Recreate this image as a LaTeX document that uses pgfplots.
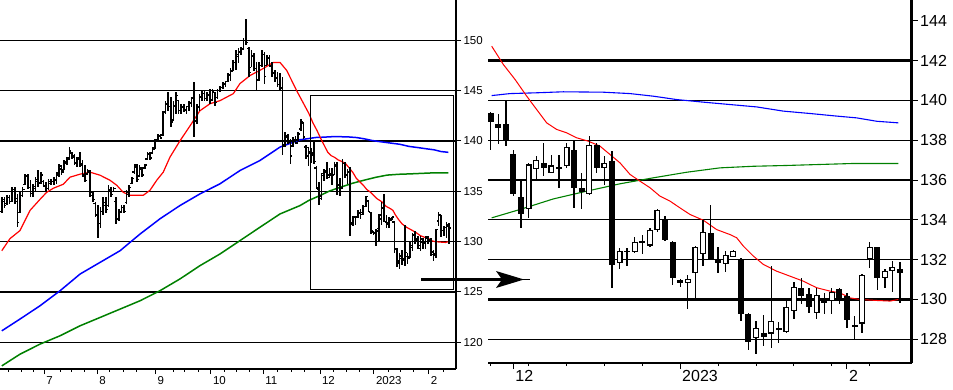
\documentclass[border=0pt]{standalone}
\usepackage{pgfplots}
\usepackage{pgfplotstable}
\pgfplotsset{compat=1.18}
\usepackage{fontspec}
\setmainfont{Liberation Sans}

\definecolor{mared}{RGB}{255,0,0}
\definecolor{mablue}{RGB}{0,0,255}
\definecolor{magreen}{RGB}{0,128,0}

\pgfplotstableread{
k o h l c
0 133.0 134.4 132.8 134.2
1 134.0 134.4 133.3 133.6
2 133.8 134.6 133.6 134.4
3 134.4 134.6 133.7 134.0
4 134.0 135.4 133.9 135.2
5 135.2 135.4 133.7 134.0
6 134.3 134.7 131.5 131.9
7 132.9 134.9 132.8 134.6
8 134.6 135.4 134.4 135.2
9 135.7 136.7 135.6 136.5
10 136.5 136.7 135.2 135.4
11 135.4 136.1 134.4 135.0
12 134.8 135.7 134.4 135.5
13 135.3 136.4 134.9 136.2
14 136.0 137.1 135.4 135.8
15 135.9 136.9 135.7 136.6
16 136.0 136.1 135.4 135.6
17 135.5 135.9 134.9 135.3
18 135.3 136.2 135.1 136.0
19 135.8 136.2 135.6 136.0
20 136.0 136.4 135.6 136.2
21 136.1 136.9 135.7 136.8
22 136.6 137.7 136.4 137.5
23 137.2 137.6 136.6 136.9
24 137.1 138.1 137.1 137.9
25 137.8 138.4 137.6 138.2
26 138.3 139.4 138.1 139.0
27 138.8 138.9 138.2 138.5
28 138.4 138.7 137.6 137.8
29 137.8 138.4 137.4 138.2
30 138.3 138.9 137.4 137.6
31 137.7 138.1 136.4 136.6
32 136.5 137.6 135.9 136.1
33 136.7 137.2 136.6 137.0
34 136.9 137.1 134.4 134.9
35 134.6 134.9 133.9 134.2
36 133.8 133.9 132.4 132.7
37 132.6 133.6 130.4 131.8
38 131.8 133.4 131.4 133.0
39 133.0 134.4 132.6 133.9
40 133.6 134.4 132.8 133.2
41 133.6 135.6 133.4 135.2
42 135.1 135.4 134.4 134.7
43 135.0 135.4 134.9 135.3
44 134.0 134.4 131.8 132.2
45 132.3 133.2 132.1 133.0
46 132.9 133.6 132.8 133.4
47 133.4 133.6 132.8 133.0
48 133.9 135.1 133.7 134.9
49 134.7 135.6 134.4 135.4
50 135.8 136.4 135.7 136.3
51 136.9 137.7 136.7 137.6
52 137.4 137.7 135.9 136.2
53 136.5 137.6 136.4 137.3
54 137.2 137.4 136.4 136.6
55 137.3 137.7 137.2 137.6
56 138.2 138.9 138.1 138.7
57 138.7 138.9 138.1 138.3
58 138.8 139.4 138.7 139.2
59 139.3 140.2 139.2 140.0
60 140.1 140.7 140.0 140.5
61 140.5 140.7 140.2 140.3
62 140.6 143.0 140.5 142.8
63 142.9 144.0 142.7 143.7
64 143.6 144.9 143.0 143.4
65 143.4 144.4 141.4 141.9
66 142.1 144.0 142.0 143.5
67 143.4 144.9 142.7 144.5
68 144.0 144.0 142.7 143.0
69 143.0 143.7 142.7 143.4
70 143.3 143.7 142.9 143.1
71 143.0 143.5 142.7 143.4
72 143.4 144.0 143.0 143.8
73 143.7 144.4 143.4 144.2
74 144.3 145.9 140.4 142.0
75 142.0 143.7 141.7 143.4
76 143.3 144.7 143.0 144.4
77 144.3 145.0 144.0 144.7
78 144.7 145.0 144.0 144.2
79 144.2 144.9 144.0 144.6
80 144.5 145.2 143.7 144.0
81 144.1 145.2 144.0 144.9
82 144.8 144.9 143.5 143.8
83 144.3 145.2 144.2 145.0
84 145.0 145.5 144.9 145.3
85 145.3 145.9 145.2 145.7
86 145.6 146.0 145.4 145.9
87 145.9 146.8 145.9 146.6
88 146.5 147.2 146.0 146.9
89 147.0 148.0 146.9 147.8
90 147.8 149.0 147.0 148.6
91 148.4 149.2 147.7 148.9
92 148.8 149.3 148.5 149.2
93 149.1 150.2 149.0 150.0
94 150.0 152.1 149.5 149.8
95 149.2 149.3 146.4 146.8
96 147.3 149.0 147.3 148.5
97 148.4 148.7 146.9 147.2
98 147.2 147.8 145.0 146.0
99 146.1 147.8 146.0 147.5
100 147.5 149.0 147.3 148.6
101 148.6 148.8 145.7 146.4
102 147.5 148.5 147.5 148.3
103 148.2 148.5 147.3 147.5
104 147.4 147.8 146.4 146.8
105 146.7 147.0 145.9 146.3
106 146.2 146.8 145.4 145.6
107 145.6 146.7 145.0 145.3
108 145.2 146.4 138.6 139.5
109 139.6 140.9 139.4 140.5
110 140.4 140.7 139.7 139.9
111 139.9 140.2 137.7 138.5
112 139.5 140.4 139.4 140.1
113 140.0 140.5 139.7 139.8
114 140.1 140.9 140.0 140.7
115 141.2 142.2 141.0 141.9
116 141.8 141.9 140.2 140.4
117 139.4 139.6 138.2 138.5
}\leftbars

\pgfplotstableread{
j o h l c
1 139.37 139.40 137.53 138.92
2 138.79 139.32 137.82 138.62
3 138.79 140.00 137.70 137.98
4 137.31 137.53 135.19 135.31
5 135.15 135.94 133.60 134.30
6 134.52 136.86 134.10 136.78
7 136.56 137.23 136.03 137.00
8 136.86 137.87 136.19 136.61
9 136.36 137.28 136.33 136.73
10 136.63 137.28 135.61 136.60
11 136.69 137.87 136.61 137.67
12 137.50 137.95 134.60 135.61
13 135.61 136.36 134.55 135.39
14 135.31 138.20 135.27 137.75
15 137.75 137.87 136.33 136.61
16 136.58 137.20 135.77 136.86
17 136.98 137.45 130.59 131.72
18 131.84 132.59 131.51 132.43
19 132.40 132.59 131.67 132.43
20 132.39 133.13 132.31 132.90
21 132.85 133.23 132.26 132.90
22 132.71 133.60 132.64 133.48
23 133.48 134.52 133.40 134.49
24 134.05 134.18 132.93 133.01
25 132.90 132.93 130.75 131.09
26 130.97 131.04 130.64 130.84
27 130.84 131.21 129.53 131.04
28 131.31 132.71 129.92 132.64
29 132.26 133.98 131.67 133.40
30 133.35 134.74 131.97 132.00
31 131.97 132.64 131.31 131.84
32 131.76 132.43 131.37 132.23
33 132.14 132.48 132.14 132.43
34 131.97 132.09 128.91 129.25
35 129.25 129.33 127.46 127.87
36 128.08 128.91 127.24 128.58
37 128.33 129.20 127.66 128.13
38 128.29 131.67 127.57 128.91
39 128.55 128.86 127.79 128.53
40 128.38 130.08 128.33 129.63
41 129.41 130.87 129.03 130.64
42 130.59 131.09 129.75 130.17
43 130.30 130.59 129.30 129.63
44 129.30 130.59 129.03 130.25
45 129.90 130.33 129.25 129.88
46 129.92 130.59 129.25 130.37
47 130.54 130.59 129.75 130.00
48 130.17 130.33 128.58 128.96
49 128.74 129.16 128.03 128.63
50 128.79 131.26 128.33 131.22
51 132.04 132.90 131.59 132.64
52 132.64 132.64 130.50 131.09
53 131.09 131.54 130.59 131.42
54 131.42 131.92 130.37 131.64
55 131.54 131.89 129.80 131.34
}\candles

\pgfplotstableread{
k v
0 129.1
3.15 130.3
7.0 131.1
10.85 133.1
14.7 134.2
17.26 134.9
19.8 135.3
23.67 135.7
26.2 136.4
30.08 136.7
33.9 136.9
37.77 136.6
41.6 136.1
44.2 135.6
46.7 134.9
49.3 134.6
54.4 134.6
57.0 135.1
59.6 136.1
62.1 136.9
64.7 138.4
68.5 140.0
72.4 141.5
76.2 143.0
80.1 143.7
83.9 144.0
89.05 144.7
91.6 145.7
95.5 146.5
100.6 147.2
104.4 147.8
107.0 147.8
109.6 147.0
113.4 145.0
118.13 142.72
}\leftred

\pgfplotstableread{
k v
0 121.14
7.0 122.31
14.7 123.63
22.4 125.12
30.1 126.78
37.8 127.94
45.5 129.10
53.2 130.76
60.8 132.26
68.5 133.58
76.2 134.74
83.9 135.74
91.6 137.06
99.3 138.06
107.0 139.39
114.7 140.12
118.13 140.24
}\leftblue

\pgfplotstableread{
k v
0 117.66
7.0 118.82
14.7 119.82
22.4 120.65
30.1 121.64
37.8 122.47
45.5 123.30
53.2 124.13
60.8 125.12
68.5 126.29
76.2 127.61
83.9 128.77
91.6 130.10
99.3 131.43
107.0 132.75
114.7 133.58
118.13 134.10
}\leftgreen

\pgfplotstableread{
j v
1.13 142.72
2.67 141.80
4.21 141.05
5.75 140.21
7.06 139.54
8.38 138.87
9.70 138.54
11.02 138.37
12.34 138.12
13.88 137.95
15.42 137.70
16.74 137.28
18.06 136.86
19.38 136.28
20.70 135.94
22.02 135.61
23.33 135.19
24.65 134.94
25.97 134.60
27.29 134.27
29.05 133.98
30.81 133.51
32.57 133.26
33.45 133.10
34.33 132.68
35.65 132.18
36.97 131.76
38.73 131.42
40.49 131.17
42.24 130.92
44.00 130.59
45.76 130.42
47.08 130.33
48.40 130.08
49.72 130.00
51.92 129.95
53.68 129.92
54.78 130.00
}\rightred

\pgfplotstableread{
j v
1.13 140.24
3.55 140.34
7.06 140.38
10.58 140.43
15.86 140.41
19.38 140.34
22.45 140.21
25.53 140.04
29.05 139.91
32.57 139.79
36.09 139.67
39.60 139.46
43.12 139.34
46.64 139.21
49.28 139.12
51.92 138.95
54.78 138.87
}\rightblue

\pgfplotstableread{
j v
1.13 134.10
4.87 134.52
9.26 135.05
13.66 135.44
18.06 135.81
22.45 136.11
26.85 136.39
31.25 136.61
35.65 136.69
40.04 136.73
44.44 136.78
48.84 136.83
54.78 136.83
}\rightgreen

\pgfplotsset{
  errbase/.style={only marks, black, forget plot, mark=*, mark size=0.01pt,
    mark options={draw opacity=0, fill opacity=0}},
  hgrid/.style={black, line width=1pt, forget plot, no marks},
  hgridthick/.style={black, line width=2.5pt, forget plot, no marks},
}

\begin{document}
\begin{tikzpicture}
\useasboundingbox (0pt,0pt) rectangle (953pt,389pt);

% ---------------- left panel ----------------
\begin{axis}[
  at={(0pt,20pt)}, anchor=south west, scale only axis,
  width=456pt, height=369pt,
  xmin=-0.69, xmax=174.7, ymin=117.35, ymax=154.0,
  axis x line*=bottom, axis y line*=right,
  axis line style={black, line width=1.6pt},
  tick align=outside, tick style={black, line width=1pt},
  major tick length=5pt, minor tick length=2.5pt,
  ytick={120,125,...,150},
  xtick={16.35,36.73,59.19,80.46,100.58,122.4,143.15,164.3},
  xticklabels={7,8,9,10,11,12,2023,2},
  minor xtick={2.77,7.65,12.1,22.4,26.9,32.0,41.6,46.7,51.9,65.96,70.46,75.6,85.85,90.35,95.46,106.2,111.5,116.6,127.5,132.65,137.77,148.65,153.2,158.3,169.8},
  xticklabel style={anchor=north west, xshift=-1.5pt, yshift=1pt},
  yticklabel style={xshift=-1pt},
  ticklabel style={font=\fontsize{11.5}{12}\selectfont},
  /pgf/number format/assume math mode=true,
]
% horizontal grid lines
\addplot[hgrid] coordinates {(-0.69,120) (174.7,120)};
\addplot[hgridthick] coordinates {(-0.69,125) (174.7,125)};
\addplot[hgrid] coordinates {(-0.69,130) (174.7,130)};
\addplot[hgrid] coordinates {(-0.69,135) (174.7,135)};
\addplot[hgridthick] coordinates {(-0.69,140) (174.7,140)};
\addplot[hgrid] coordinates {(-0.69,145) (174.7,145)};
\addplot[hgrid] coordinates {(-0.69,150) (174.7,150)};
% moving averages
\addplot[mablue, line width=1.5pt] table[x=k, y=v] {\leftblue};
\addplot[mablue, line width=1.5pt] table[x expr=\thisrow{j}+117, y=v] {\rightblue};
\addplot[magreen, line width=1.5pt] table[x=k, y=v] {\leftgreen};
\addplot[magreen, line width=1.5pt] table[x expr=\thisrow{j}+117, y=v] {\rightgreen};
\addplot[mared, line width=1.2pt] table[x=k, y=v] {\leftred};
\addplot[mared, line width=1.2pt] table[x expr=\thisrow{j}+117, y=v] {\rightred};
% OHLC bars: high-low
\addplot[errbase, error bars/.cd, y dir=both, y explicit, error mark=none,
  error bar style={line width=1.7pt}]
  table[x=k, y expr={(\thisrow{h}+\thisrow{l})/2}, y error expr={(\thisrow{h}-\thisrow{l})/2}] {\leftbars};
\addplot[errbase, error bars/.cd, y dir=both, y explicit, error mark=none,
  error bar style={line width=1.7pt}]
  table[x expr=\thisrow{j}+117, y expr={(\thisrow{h}+\thisrow{l})/2}, y error expr={(\thisrow{h}-\thisrow{l})/2}] {\candles};
% open ticks
\addplot[errbase, error bars/.cd, x dir=minus, x fixed=0.8, error mark=none,
  error bar style={line width=1.4pt}] table[x=k, y=o] {\leftbars};
\addplot[errbase, error bars/.cd, x dir=minus, x fixed=0.8, error mark=none,
  error bar style={line width=1.4pt}] table[x expr=\thisrow{j}+117, y=o] {\candles};
% close ticks
\addplot[errbase, error bars/.cd, x dir=plus, x fixed=0.8, error mark=none,
  error bar style={line width=1.4pt}] table[x=k, y=c] {\leftbars};
\addplot[errbase, error bars/.cd, x dir=plus, x fixed=0.8, error mark=none,
  error bar style={line width=1.4pt}] table[x expr=\thisrow{j}+117, y=c] {\candles};
\end{axis}

% ---------------- right panel ----------------
\begin{axis}[
  at={(488pt,26pt)}, anchor=south west, scale only axis,
  width=423.7pt, height=363pt,
  xmin=0.644, xmax=56.54, ymin=126.81, ymax=145.04,
  axis x line*=bottom, axis y line*=right,
  axis line style={black, line width=2.6pt},
  tick align=outside, tick style={black, line width=1pt},
  major tick length=6pt, minor tick length=3pt,
  ytick={128,130,...,144},
  xtick={4,26,48},
  xticklabels={12,2023,2},
  minor xtick={1,6,11,16,21,31,36,41,46,51},
  xticklabel style={anchor=north west, xshift=-1.5pt, yshift=2pt},
  yticklabel style={xshift=-1pt},
  ticklabel style={font=\fontsize{16}{17}\selectfont},
  /pgf/number format/assume math mode=true,
]
\addplot[hgrid] coordinates {(0.644,128) (56.54,128)};
\addplot[hgridthick] coordinates {(0.644,130) (56.54,130)};
\addplot[hgrid] coordinates {(0.644,132) (56.54,132)};
\addplot[hgrid] coordinates {(0.644,134) (56.54,134)};
\addplot[hgridthick] coordinates {(0.644,136) (56.54,136)};
\addplot[hgrid] coordinates {(0.644,138) (56.54,138)};
\addplot[hgrid] coordinates {(0.644,140) (56.54,140)};
\addplot[hgridthick] coordinates {(0.644,142) (56.54,142)};
\addplot[mablue, line width=1.1pt] table[x=j, y=v] {\rightblue};
\addplot[magreen, line width=1.1pt] table[x=j, y=v] {\rightgreen};
\addplot[mared, line width=1pt] table[x=j, y=v] {\rightred};
% wicks
\addplot[errbase, error bars/.cd, y dir=both, y explicit, error mark=none,
  error bar style={line width=1.3pt}]
  table[x=j, y expr={(\thisrow{h}+\thisrow{l})/2}, y error expr={(\thisrow{h}-\thisrow{l})/2}] {\candles};
% bodies
\addplot[errbase, error bars/.cd, y dir=both, y explicit, error mark=none,
  error bar style={line width=6pt}]
  table[x=j, y expr={(\thisrow{o}+\thisrow{c})/2}, y error expr={max(abs(\thisrow{c}-\thisrow{o})/2,0.04)}] {\candles};
% hollow inside of up candles
\addplot[errbase, error bars/.cd, y dir=both, y explicit, error mark=none,
  error bar style={white, line width=3.6pt}]
  table[x=j, y expr={(\thisrow{o}+\thisrow{c})/2}, y error expr={ifthenelse(\thisrow{c}>\thisrow{o}, max((\thisrow{c}-\thisrow{o})/2-0.06,0), 0)}] {\candles};
\end{axis}

% zoom box and arrow
\draw[black, line width=1pt] (310pt,99.7pt) rectangle (453.3pt,293.3pt);
\draw[black, line width=3pt] (421pt,109.5pt) -- (503pt,109.5pt);
\fill[black] (496pt,118pt) -- (524pt,109.5pt) -- (496pt,101pt) -- (502pt,109.5pt) -- cycle;
\draw[black, line width=0.8pt] (515pt,109.5pt) -- (530pt,109.5pt);
\end{tikzpicture}
\end{document}
